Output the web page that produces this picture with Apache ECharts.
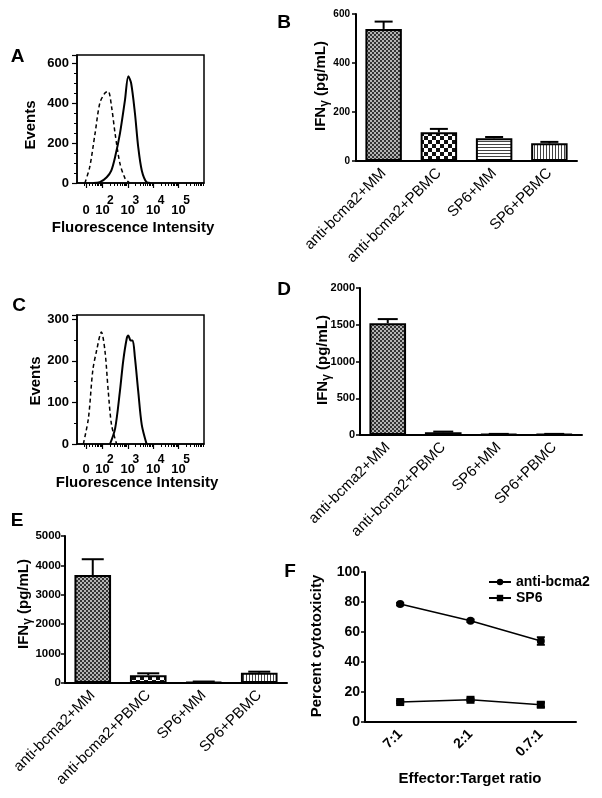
<!DOCTYPE html>
<html><head><meta charset="utf-8">
<script src="https://cdn.jsdelivr.net/npm/echarts@6.0.0/dist/echarts.min.js"></script>
<style>html,body{margin:0;padding:0;background:#fff}#c{width:602px;height:798px}</style>
</head><body><div id="c"></div>
<script>
// ================= DATA =================
const groups = ['anti-bcma2+MM', 'anti-bcma2+PBMC', 'SP6+MM', 'SP6+PBMC'];
const ifnB = [539, 117, 93, 72];
const ifnBErr = [30, 14, 5, 6];
const ifnD = [1522, 38, 12, 12];
const ifnDErr = [55, 8, 3, 3];
const ifnE = [3670, 260, 40, 350];
const ifnEErr = [540, 70, 10, 35];

const ratios = ['7:1', '2:1', '0.7:1'];
const cytoAnti = [78.6, 67.5, 54];
const cytoAntiErr = [0.8, 0.8, 2.5];
const cytoSP6 = [13.3, 14.8, 11.5];
const cytoSP6Err = [0.8, 0.8, 1.5];

// flow histograms: x = display position in decades (biexponential), y = events
const histA_ctrlX = [1.31, 1.50, 1.71, 1.90, 2.10, 2.23, 2.36, 2.50, 2.69, 2.89, 3.00, 3.08];
const histA_ctrlY = [0, 79, 247, 400, 450, 458, 382, 247, 98, 23, 8, 0];
const histA_stainX = [1.64, 1.90, 2.17, 2.35, 2.50, 2.69, 2.89, 3.02, 3.13, 3.28, 3.41, 3.55, 3.74, 3.90];
const histA_stainY = [0, 4, 29, 62, 130, 247, 416, 534, 500, 350, 180, 63, 4, 0];
const histC_ctrlX = [1.25, 1.45, 1.62, 1.77, 1.96, 2.10, 2.23, 2.36, 2.56];
const histC_ctrlY = [0, 62, 176, 224, 269, 224, 127, 46, 0];
const histC_stainX = [2.30, 2.50, 2.69, 2.82, 2.96, 3.02, 3.11, 3.19, 3.28, 3.41, 3.55, 3.74];
const histC_stainY = [0, 37, 127, 200, 254, 261, 249, 249, 208, 127, 46, 0];

// fluorescence axis tick labels: position (decades) and exponent ('' = zero)
const fluorTickPos = [1.354, 2, 3, 4, 5];
const fluorTickExp = ['', '2', '3', '4', '5'];

// ================= STYLE HELPERS =================
const FONT = '"Liberation Sans", Arial, sans-serif';
const BLACK = '#000';

function pattern(kind) {
  const c = document.createElement('canvas');
  const x = c.getContext('2d');
  if (kind === 0) {
    c.width = 4; c.height = 4;
    x.fillStyle = '#b4b4b4'; x.fillRect(0, 0, 4, 4);
    x.fillStyle = '#333'; x.fillRect(0, 0, 2, 2); x.fillRect(2, 2, 2, 2);
  } else if (kind === 1) {
    c.width = 8; c.height = 8;
    x.fillStyle = '#fff'; x.fillRect(0, 0, 8, 8);
    x.fillStyle = '#111'; x.fillRect(0, 0, 4, 4); x.fillRect(4, 4, 4, 4);
  } else if (kind === 2) {
    c.width = 1; c.height = 3;
    x.fillStyle = '#fff'; x.fillRect(0, 0, 1, 3);
    x.fillStyle = '#444'; x.fillRect(0, 0, 1, 1);
  } else {
    c.width = 3; c.height = 1;
    x.fillStyle = '#fff'; x.fillRect(0, 0, 3, 1);
    x.fillStyle = '#444'; x.fillRect(0, 0, 1, 1);
  }
  return { image: c, repeat: 'repeat' };
}
const barPatterns = [pattern(0), pattern(1), pattern(2), pattern(3)];

const minorFluorTicks = [];
for (let n = 1; n <= 5; n++) for (let k = 2; k <= 9; k++) minorFluorTicks.push(n + Math.log10(k));

function zip(a, b) { return a.map((v, i) => [v, b[i]]); }

function flowXMajor(grid, margin) {
  return {
    type: 'value', gridIndex: grid, min: 1, max: 6, position: 'bottom',
    axisLine: { onZero: false, lineStyle: { color: BLACK, width: 1.5 } },
    splitLine: { show: false },
    axisTick: { customValues: fluorTickPos, length: 5, lineStyle: { color: BLACK, width: 1.2 } },
    axisLabel: {
      customValues: fluorTickPos, margin: margin, color: BLACK, hideOverlap: false,
      formatter: function (v) {
        let i = 0, best = 1e9;
        fluorTickPos.forEach((p, j) => { if (Math.abs(p - v) < best) { best = Math.abs(p - v); i = j; } });
        const e = fluorTickExp[i];
        return e === '' ? '{z| }\n{b|0}' : '{s|' + e + '}\n{b|10}';
      },
      rich: {
        s: { fontFamily: FONT, fontSize: 12, fontWeight: 'bold', color: BLACK, lineHeight: 7, padding: [0, 0, 0, 16] },
        z: { fontFamily: FONT, fontSize: 12, fontWeight: 'bold', color: BLACK, lineHeight: 7 },
        b: { fontFamily: FONT, fontSize: 13, fontWeight: 'bold', color: BLACK, lineHeight: 12 }
      }
    }
  };
}
function flowXMinor(grid) {
  return {
    type: 'value', gridIndex: grid, min: 1, max: 6, position: 'bottom',
    axisLine: { show: false, onZero: false }, splitLine: { show: false },
    axisLabel: { show: false },
    axisTick: { customValues: minorFluorTicks, length: 3, lineStyle: { color: BLACK, width: 1 } }
  };
}
function flowY(grid, max, interval, split) {
  return {
    type: 'value', gridIndex: grid, min: 0, max: max, interval: interval,
    axisLine: { show: true, lineStyle: { color: BLACK, width: 1.5 } },
    axisTick: { show: true, length: 5, lineStyle: { color: BLACK, width: 1.2 } },
    minorTick: { show: true, splitNumber: split, length: 3, lineStyle: { color: BLACK, width: 1 } },
    splitLine: { show: false }, minorSplitLine: { show: false },
    axisLabel: {
      fontFamily: FONT, fontSize: 13, fontWeight: 'bold', color: BLACK, margin: 8,
      formatter: v => (v % interval === 0 ? String(v) : '')
    }
  };
}
function catX(grid, cats, fontSize, weight, margin) {
  return {
    type: 'category', gridIndex: grid, data: cats, position: 'bottom',
    axisLine: { onZero: false, lineStyle: { color: BLACK, width: 2 } },
    axisTick: { alignWithLabel: true, length: 5, lineStyle: { color: BLACK, width: 1.5 } },
    splitLine: { show: false },
    axisLabel: { interval: 0, rotate: 45, margin: margin, fontFamily: FONT, fontSize: fontSize, fontWeight: weight, color: BLACK }
  };
}
function valY(grid, max, interval, fontSize, margin) {
  return {
    type: 'value', gridIndex: grid, min: 0, max: max, interval: interval,
    axisLine: { show: true, lineStyle: { color: BLACK, width: 2 } },
    axisTick: { show: true, length: 4, lineStyle: { color: BLACK, width: 1.5 } },
    splitLine: { show: false },
    axisLabel: { fontFamily: FONT, fontSize: fontSize, fontWeight: 'bold', color: BLACK, margin: margin,
      formatter: v => String(v) }
  };
}
function histLine(xi, yi, xs, ys, dashed) {
  return {
    type: 'line', xAxisIndex: xi, yAxisIndex: yi, data: zip(xs, ys),
    showSymbol: false, smooth: 0.3, silent: true,
    lineStyle: { color: BLACK, width: dashed ? 1.5 : 2, type: dashed ? [4, 3] : 'solid' }
  };
}
function bars(xi, yi, vals) {
  return {
    type: 'bar', xAxisIndex: xi, yAxisIndex: yi, barWidth: '66%',
    data: vals.map((v, i) => ({ value: v, itemStyle: { color: barPatterns[i] } })),
    itemStyle: { borderColor: BLACK, borderWidth: 2 }
  };
}
function errBars(xi, yi, vals, errs, capHalf, both) {
  return {
    type: 'custom', xAxisIndex: xi, yAxisIndex: yi, z: 4, silent: true,
    data: vals.map((v, i) => [i, v, errs[i]]),
    renderItem: function (params, api) {
      const x = api.value(0), v = api.value(1), e = api.value(2);
      const top = api.coord([x, v + e]);
      const bot = api.coord([x, both ? v - e : v]);
      const st = { stroke: BLACK, lineWidth: 2 };
      const ch = [
        { type: 'line', shape: { x1: top[0], y1: top[1], x2: bot[0], y2: bot[1] }, style: st },
        { type: 'line', shape: { x1: top[0] - capHalf, y1: top[1], x2: top[0] + capHalf, y2: top[1] }, style: st }
      ];
      if (both) ch.push({ type: 'line', shape: { x1: bot[0] - capHalf, y1: bot[1], x2: bot[0] + capHalf, y2: bot[1] }, style: st });
      return { type: 'group', children: ch };
    }
  };
}
function txt(x, y, text, size, rot) {
  return {
    type: 'text', x: x, y: y, rotation: rot || 0, silent: true,
    style: { text: text, fill: BLACK, font: 'bold ' + size + 'px ' + FONT,
      align: 'center', verticalAlign: 'middle', textAlign: 'center', textVerticalAlign: 'middle' }
  };
}
function ifnLabel(x, y) {
  return {
    type: 'text', x: x, y: y, rotation: Math.PI / 2, silent: true,
    style: {
      text: '{a|IFN}{g|γ}{a| (pg/mL)}', fill: BLACK,
      align: 'center', verticalAlign: 'middle', textAlign: 'center', textVerticalAlign: 'middle',
      rich: {
        a: { fontFamily: FONT, fontSize: 15, fontWeight: 'bold', fill: BLACK, lineHeight: 18, verticalAlign: 'top' },
        g: { fontFamily: FONT, fontSize: 12, fontWeight: 'bold', fill: BLACK, lineHeight: 12, verticalAlign: 'bottom' }
      }
    }
  };
}

// ================= CHART =================
const chart = echarts.init(document.getElementById('c'), null, { renderer: 'canvas', width: 602, height: 798 });
const PI2 = Math.PI / 2;
chart.setOption({
  animation: false,
  backgroundColor: '#fff',
  grid: [
    { left: 77, top: 55, width: 127, height: 128, show: true, borderColor: BLACK, borderWidth: 1.5, backgroundColor: 'transparent' },
    { left: 77, top: 315, width: 127, height: 129, show: true, borderColor: BLACK, borderWidth: 1.5, backgroundColor: 'transparent' },
    { left: 356, top: 14, width: 221, height: 147 },
    { left: 360, top: 288, width: 222, height: 147 },
    { left: 65, top: 536, width: 222, height: 147 },
    { left: 365, top: 572, width: 211, height: 150 }
  ],
  xAxis: [
    flowXMajor(0, 14), flowXMinor(0),
    flowXMajor(1, 12), flowXMinor(1),
    catX(2, groups, 15, 'normal', 10),
    catX(3, groups, 15, 'normal', 10),
    catX(4, groups, 15, 'normal', 10),
    catX(5, ratios, 14, 'bold', 10)
  ],
  yAxis: [
    flowY(0, 640, 200, 4),
    flowY(1, 310, 100, 2),
    valY(2, 600, 200, 10, 6),
    valY(3, 2000, 500, 11, 5),
    valY(4, 5000, 1000, 11.5, 4),
    valY(5, 100, 20, 14, 5)
  ],
  legend: {
    data: ['anti-bcma2', 'SP6'], orient: 'vertical', left: 488, top: 574, padding: 0,
    itemWidth: 22, itemHeight: 8, itemGap: 0,
    textStyle: { fontFamily: FONT, fontSize: 14, fontWeight: 'bold', color: BLACK, lineHeight: 16 }
  },
  series: [
    histLine(0, 0, histA_ctrlX, histA_ctrlY, true),
    histLine(0, 0, histA_stainX, histA_stainY, false),
    histLine(2, 1, histC_ctrlX, histC_ctrlY, true),
    histLine(2, 1, histC_stainX, histC_stainY, false),
    bars(4, 2, ifnB), errBars(4, 2, ifnB, ifnBErr, 9, false),
    bars(5, 3, ifnD), errBars(5, 3, ifnD, ifnDErr, 10, false),
    bars(6, 4, ifnE), errBars(6, 4, ifnE, ifnEErr, 11, false),
    {
      name: 'anti-bcma2', type: 'line', xAxisIndex: 7, yAxisIndex: 5, data: cytoAnti,
      symbol: 'circle', symbolSize: 8, itemStyle: { color: BLACK }, lineStyle: { color: BLACK, width: 1.5 }
    },
    {
      name: 'SP6', type: 'line', xAxisIndex: 7, yAxisIndex: 5, data: cytoSP6,
      symbol: 'rect', symbolSize: 8, itemStyle: { color: BLACK }, lineStyle: { color: BLACK, width: 1.5 }
    },
    errBars(7, 5, cytoAnti, cytoAntiErr, 4, true),
    errBars(7, 5, cytoSP6, cytoSP6Err, 4, true)
  ],
  graphic: { elements: [
    txt(17.5, 57, 'A', 19), txt(284, 23, 'B', 19), txt(19, 306, 'C', 19),
    txt(284, 290, 'D', 19), txt(17, 521, 'E', 19), txt(290, 572, 'F', 19),
    txt(31, 125, 'Events', 15, PI2), txt(36, 381, 'Events', 15, PI2),
    txt(133, 228, 'Fluorescence Intensity', 15), txt(137, 483, 'Fluorescence Intensity', 15),
    ifnLabel(322, 86), ifnLabel(324, 360), ifnLabel(25, 604),
    txt(317, 646, 'Percent cytotoxicity', 15, PI2),
    txt(470, 779, 'Effector:Target ratio', 15)
  ] }
});
</script>
</body></html>
